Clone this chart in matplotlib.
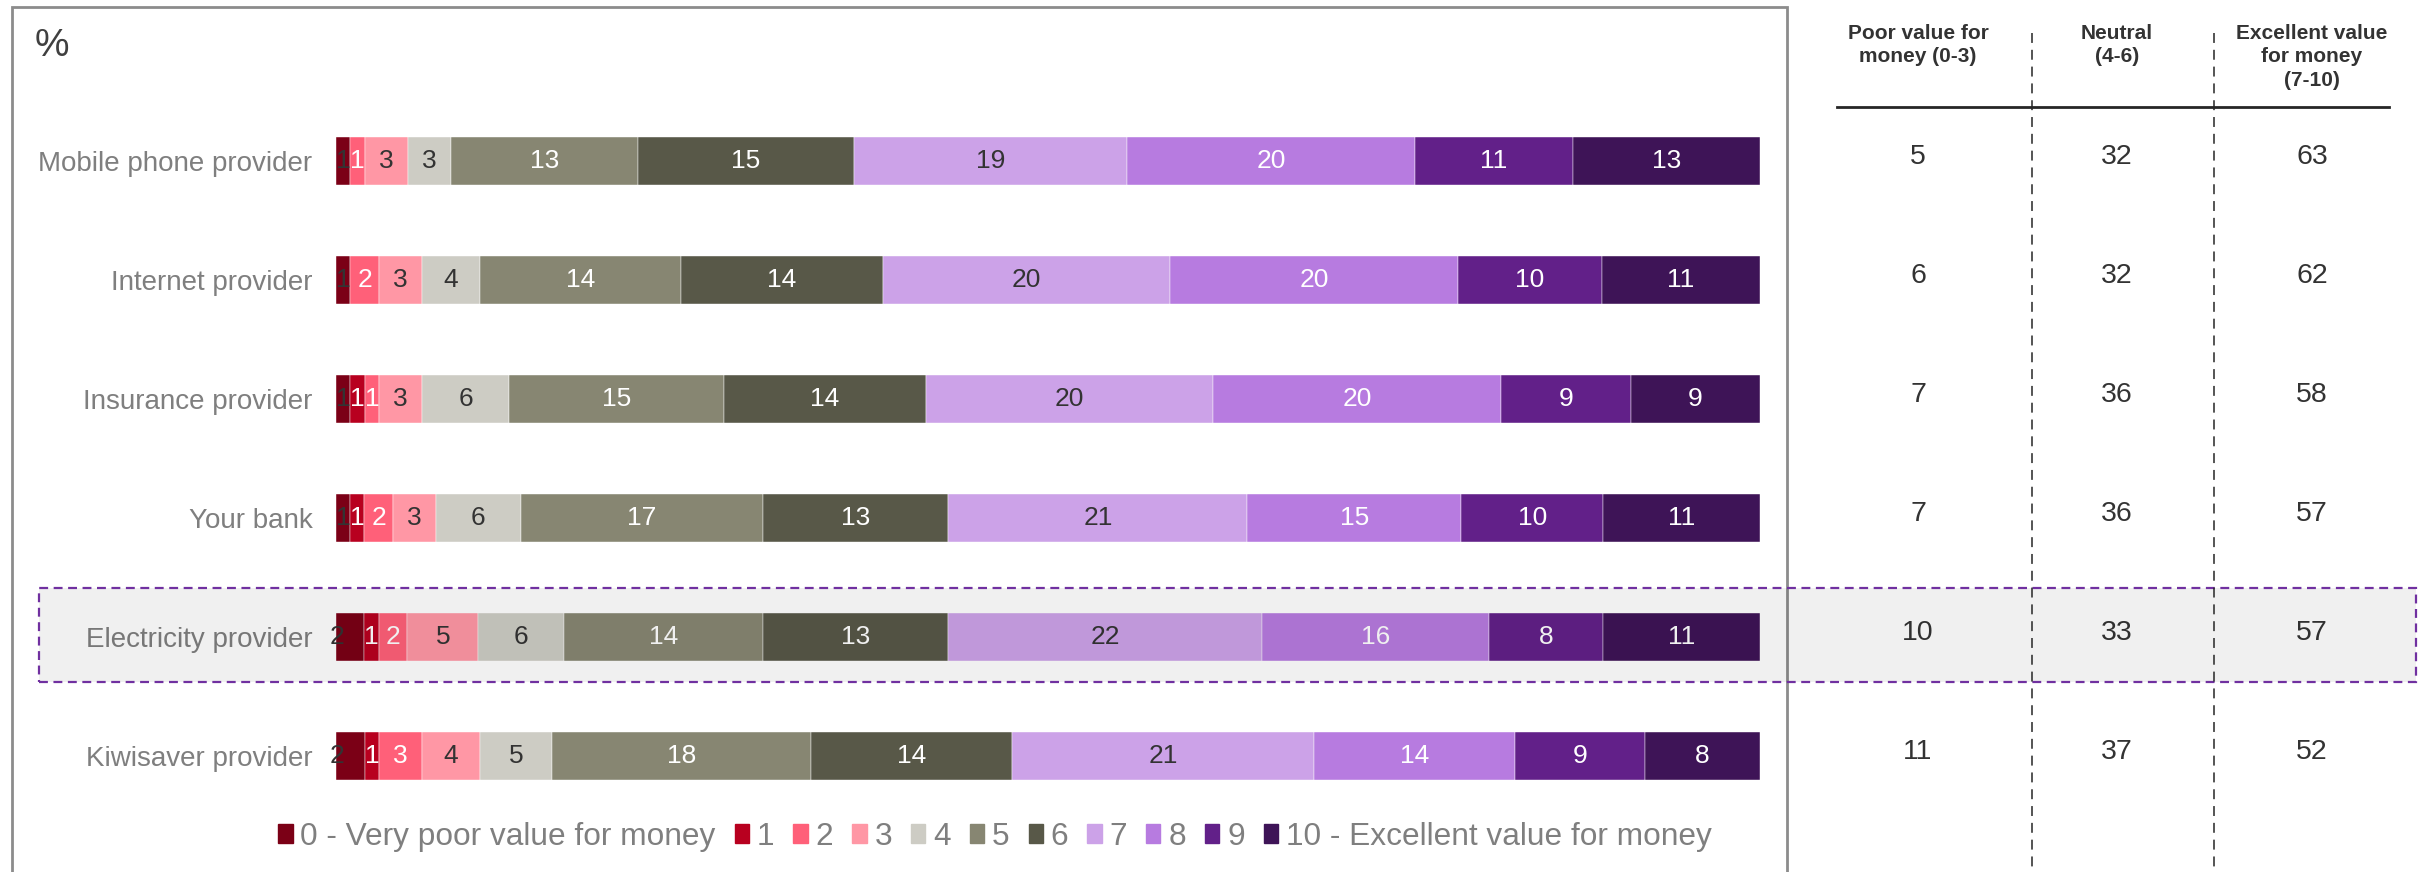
import matplotlib.pyplot as plt
import matplotlib.transforms as mtransforms
from matplotlib.patches import Rectangle
from matplotlib.lines import Line2D

plt.rcParams['font.family'] = ['Liberation Sans', 'DejaVu Sans']

# Data
providers = ["Mobile phone provider", "Internet provider", "Insurance provider",
             "Your bank", "Electricity provider", "Kiwisaver provider"]
score_labels = ["0 - Very poor value for money", "1", "2", "3", "4", "5", "6",
                "7", "8", "9", "10 - Excellent value for money"]
scores = [
    [1, 0, 1, 3, 3, 13, 15, 19, 20, 11, 13],
    [1, 0, 2, 3, 4, 14, 14, 20, 20, 10, 11],
    [1, 1, 1, 3, 6, 15, 14, 20, 20, 9, 9],
    [1, 1, 2, 3, 6, 17, 13, 21, 15, 10, 11],
    [2, 1, 2, 5, 6, 14, 13, 22, 16, 8, 11],
    [2, 1, 3, 4, 5, 18, 14, 21, 14, 9, 8],
]
table_headers = ["Poor value for\nmoney (0-3)", "Neutral\n(4-6)",
                 "Excellent value\nfor money\n(7-10)"]
poor = [5, 6, 7, 7, 10, 11]
neutral = [32, 32, 36, 36, 33, 37]
excellent = [63, 62, 58, 57, 57, 52]
highlight = "Electricity provider"

colors = ['#7B0016', '#B8001F', '#FF6079', '#FF97A5', '#CDCCC4', '#878672',
          '#585848', '#CCA2E8', '#B77BE0', '#622089', '#3E1457']
dark_text = {0, 3, 4, 7}

W, H = 2425, 872
fig = plt.figure(figsize=(W / 100, H / 100), dpi=100)

def fx(px):
    return px / W

def fy(py):
    return 1 - py / H

# panel border
fig.patches.append(Rectangle((fx(12), -0.05), fx(1787 - 12), fy(7) + 0.05,
                             transform=fig.transFigure, fill=False,
                             edgecolor='#8C8C8C', linewidth=2))
fig.text(fx(35), fy(46), "%", fontsize=28, color='#404040', va='center')

ax = fig.add_axes([fx(336), fy(815.5), fx(1760 - 336), (815.5 - 101.5) / H])
for i, row in enumerate(scores):
    total = sum(row)
    left = 0
    for j, v in enumerate(row):
        w = v / total * 100
        if v > 0:
            ax.barh(i, w, left=left, height=0.40, color=colors[j],
                    edgecolor='white', linewidth=0.3)
            tx = left + (w / 2 if v < 2 or j > 0 else 0.05)
            ax.text(tx, i, str(v), ha='center', va='center', fontsize=19,
                    color='#333333' if j in dark_text else 'white')
        left += w

ax.set_xlim(0, 100)
ax.set_ylim(len(providers) - 0.5, -0.5)
ax.set_yticks(range(len(providers)))
ax.set_yticklabels(providers, fontsize=20, color='#7F7F7F')
ax.tick_params(axis='y', length=0, pad=17)
ax.set_xticks([])
for s in ax.spines.values():
    s.set_visible(False)

handles = [Rectangle((0, 0), 1, 1, color=c) for c in colors]
fig.legend(handles, score_labels, loc='center', bbox_to_anchor=(fx(995), fy(837)),
           ncol=11, frameon=False, fontsize=22.8, labelcolor='#7F7F7F',
           handlelength=0.45, handleheight=0.55, handletextpad=0.25,
           columnspacing=0.6)

# table
trans = mtransforms.blended_transform_factory(fig.transFigure, ax.transData)
col_x = [fx(1918), fx(2117), fx(2312)]
for x, head in zip(col_x, table_headers):
    fig.text(x, fy(24), head, ha='center', va='top', fontsize=15,
             fontweight='bold', color='#333333', linespacing=1.3)
for x, vals in zip(col_x, [poor, neutral, excellent]):
    for i, v in enumerate(vals):
        ax.text(x, i - 0.03, str(v), transform=trans, ha='center', va='center',
                fontsize=20.5, color='#333333', clip_on=False)

fig.lines.append(Line2D([fx(1837), fx(2389)], [fy(107), fy(107)],
                        transform=fig.transFigure, color='#262626', linewidth=2))
for px in (2032, 2214):
    fig.lines.append(Line2D([fx(px), fx(px)], [fy(33), 0], transform=fig.transFigure,
                            color='#262626', linewidth=1.1, dashes=(6.5, 4.5)))

# highlight box
hi = providers.index(highlight)
fig.patches.append(Rectangle((fx(39), fy(682)), fx(2416 - 39), (682 - 588) / H,
                             transform=fig.transFigure, facecolor=(0, 0, 0, 0.06),
                             edgecolor='#7030A0', linewidth=1.6,
                             linestyle=(0, (4, 2.5))))

fig.savefig("out.png", dpi=100)
